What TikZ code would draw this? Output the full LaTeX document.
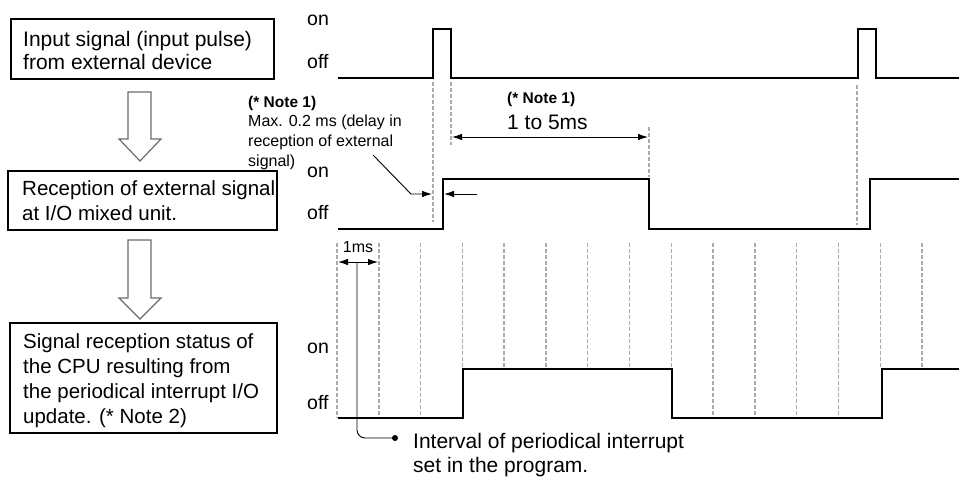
\documentclass[tikz,border=0pt]{standalone}
\usepackage{fontspec}
\setmainfont{Liberation Sans}
\usetikzlibrary{arrows.meta}
\begin{document}
\begin{tikzpicture}[x=1pt,y=-1pt,
  boxframe/.style={draw=black, line width=1.5pt, inner sep=0pt, minimum width=#1},
  boxtext/.style={anchor=west, inner sep=0pt, align=left},
  lvl/.style={anchor=west, inner sep=0pt, font=\fontsize{19.5}{22}\selectfont},
  sig/.style={line width=2pt, line join=miter},
  grid/.style={draw=gray!65, line width=1.5pt, dash pattern=on 3.5pt off 2.5pt},
  hollow/.style={draw=gray!85!black, line width=1.2pt, fill=white},
  dim/.style={line width=0.9pt, {Latex[length=10pt,width=6.5pt]}-{Latex[length=10pt,width=6.5pt]}},
  lead/.style={line width=0.9pt, -{Latex[length=10pt,width=6.5pt]}},
  note/.style={anchor=west, inner sep=0pt, font=\bfseries\fontsize{15.5}{17}\selectfont},
  small/.style={anchor=west, inner sep=0pt, align=left, font=\fontsize{16}{20.3}\selectfont}
]
\useasboundingbox (0,0) rectangle (959,477);

% ---- boxes
\node[boxframe=263, minimum height=60] (b1) at (142.5,49) {};
\node[boxtext, font=\fontsize{21}{23}\selectfont] (t1) at (23,50.5) {Input signal (input pulse)\\from external device};
\node[boxframe=269, minimum height=59] (b2) at (142.5,200.5) {};
\node[boxtext, font=\fontsize{20.5}{25}\selectfont] (t2) at (22,200.5) {Reception of external signal\\at I/O mixed unit.};
\node[boxframe=267, minimum height=110] (b3) at (143.5,378) {};
\node[boxtext, font=\fontsize{20.5}{25}\selectfont] (t3) at (23,381) {Signal reception status of\\the CPU resulting from\\the periodical interrupt I/O\\update. (* Note 2)};

% ---- hollow arrows
\draw[hollow] (128,92) -- (151,92) -- (151,139) -- (161,139) -- (140,161) -- (119,139) -- (128,139) -- cycle;
\draw[hollow] (128,240) -- (151,240) -- (151,298) -- (161,298) -- (140,319) -- (119,298) -- (128,298) -- cycle;

% ---- on / off labels
\node[lvl] (on1) at (307,20) {on};
\node[lvl] (off1) at (307,62) {off};
\node[lvl] (on2) at (307,172) {on};
\node[lvl] (off2) at (307,213) {off};
\node[lvl] (on3) at (307,348) {on};
\node[lvl] (off3) at (307,403) {off};

% ---- grid (periodical interrupt)
\foreach \k/\yb in {0/418,1/418,2/418,3/369,4/369,5/369,6/369,7/369,8/369,9/418,10/418,11/418,12/418,13/369,14/369}{
  \coordinate (gt\k) at ({337+41.79*\k},243);
  \coordinate (gb\k) at ({337+41.79*\k},\yb);
  \draw[grid] (gt\k) -- (gb\k);
}

% ---- upper dashed guides
\coordinate (d1a) at (433,82);  \coordinate (d1b) at (433,222);
\coordinate (d2a) at (451,82);  \coordinate (d2b) at (451,145);
\coordinate (d3a) at (649,127); \coordinate (d3b) at (649,177);
\coordinate (d4a) at (857,85);  \coordinate (d4b) at (857,225);
\draw[grid] (d1a) -- (d1b);
\draw[grid] (d2a) -- (d2b);
\draw[grid] (d3a) -- (d3b);
\draw[grid] (d4a) -- (d4b);

% ---- signals
\draw[sig] (338,78) -- (433,78) -- (433,29) -- (451,29) -- (451,78) -- (858,78) -- (858,29) -- (876,29) -- (876,78) -- (959,78);
\draw[sig] (338,229) -- (443,229) -- (443,179) -- (649,179) -- (649,229) -- (870,229) -- (870,179) -- (959,179);
\draw[sig] (338,418) -- (463,418) -- (463,369) -- (672,369) -- (672,418) -- (882,418) -- (882,369) -- (959,369);

% ---- note 1 (left)
\node[note] (n1) at (248,103) {(* Note 1)};
\node[small] (n1t) at (248,142.5) {Max. 0.2 ms (delay in\\reception of external\\signal)};
\coordinate (l0) at (373,155);
\coordinate (l1) at (411,194);
\coordinate (l2) at (432,194);
\draw[lead] (l0) -- (l1) -- (l2);
\coordinate (r0) at (477,194);
\coordinate (r1) at (444,194);
\draw[lead] (r0) -- (r1);

% ---- note 1 (1 to 5 ms)
\node[note] (n2) at (507,99) {(* Note 1)};
\node[anchor=west, inner sep=0pt, font=\fontsize{21}{24}\selectfont] (n2t) at (507,122) {1 to 5ms};
\coordinate (a0) at (452,137);
\coordinate (a1) at (648,137);
\draw[dim] (a0) -- (a1);

% ---- 1 ms
\node[inner sep=0pt, font=\fontsize{16}{17}\selectfont] (ms) at (358,247) {1ms};
\coordinate (m0) at (338,262);
\coordinate (m1) at (378,262);
\draw[dim] (m0) -- (m1);
\coordinate (c0) at (357,262);
\coordinate (c1) at (395,438);
\draw[line width=0.9pt, rounded corners=8pt] (c0) |- (c1);
\fill (c1) circle (3pt);
\node[anchor=west, inner sep=0pt, align=left, font=\fontsize{21}{24}\selectfont] (iv) at (413,455) {Interval of periodical interrupt\\set in the program.};
\end{tikzpicture}
\end{document}
